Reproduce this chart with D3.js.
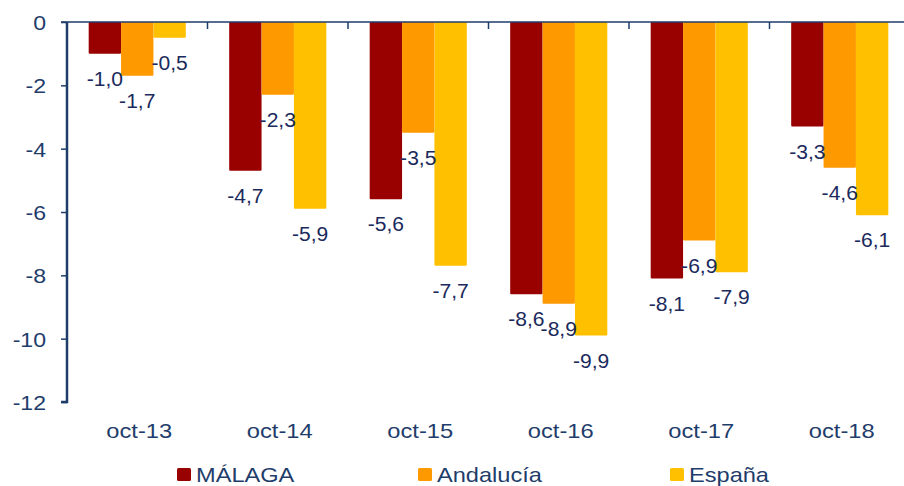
<!DOCTYPE html>
<html>
<head>
<meta charset="utf-8">
<script src="https://cdn.jsdelivr.net/npm/d3@7"></script>
<style>
  body { margin: 0; background: #fff; }
  svg { display: block; font-family: "Liberation Sans", Arial, sans-serif; }
</style>
</head>
<body>
<div id="chart"></div>
<script>
var categories = ["oct-13", "oct-14", "oct-15", "oct-16", "oct-17", "oct-18"];
var seriesNames = ["MÁLAGA", "Andalucía", "España"];
var malaga = [-1.0, -4.7, -5.6, -8.6, -8.1, -3.3];
var andalucia = [-1.7, -2.3, -3.5, -8.9, -6.9, -4.6];
var espana = [-0.5, -5.9, -7.7, -9.9, -7.9, -6.1];
var yTicks = [0, -2, -4, -6, -8, -10, -12];

var colors = ["#990000", "#ff9900", "#ffc000"];
var axisColor = "#1f3d6b",
    labelColor = "#1b2a5c",
    width = 904,
    height = 486;

var seriesValues = [malaga, andalucia, espana];

// the source picture is a bit wider than tall, so text gets a horizontal stretch
var stretch = function(sx) {
    return function(sel) {
        sel.attr("transform", function() {
            var t = d3.select(this);
            var px = +t.attr("x"), py = +t.attr("y");
            t.attr("x", 0).attr("y", 0);
            return "translate(" + px + "," + py + ") scale(" + sx + ",1)";
        });
    };
};

var fmt = function(v) {
    return d3.format(".1f")(v).replace("\u2212", "-").replace(".", ",");
};

var svg = d3.select("#chart").append("svg")
    .attr("width", width).attr("height", height);

var x = d3.scaleBand().domain(categories).range([67, 910]);
var xs = d3.scaleBand().domain([0, 1, 2]).range([0, x.bandwidth()]).paddingOuter(0.67);
var y = d3.scaleLinear().domain([-12, 0]).range([402, 22]);

// bars
var groups = svg.selectAll("g.cat").data(categories).enter().append("g")
    .attr("class", "cat")
    .attr("transform", function(d) { return "translate(" + x(d) + ",0)"; });

var cellData = function(d, i) {
    return seriesValues.map(function(s, j) { return { s: j, v: s[i] }; });
};

groups.selectAll("rect").data(cellData).enter().append("rect")
    .attr("x", function(d) { return xs(d.s); })
    .attr("y", y(0))
    .attr("width", xs.bandwidth())
    .attr("height", function(d) { return y(d.v) - y(0); })
    .attr("rx", 1)
    .attr("fill", function(d) { return colors[d.s]; });

// value labels
groups.selectAll("text.val").data(cellData).enter().append("text")
    .attr("class", "val")
    .attr("x", function(d) { return xs(d.s) + xs.bandwidth() / 2; })
    .attr("y", function(d) { return y(d.v) + 32; })
    .attr("text-anchor", "middle")
    .attr("font-size", 19.5)
    .attr("fill", labelColor)
    .text(function(d) { return fmt(d.v); })
    .call(stretch(1.08));

// zero line with ticks at category boundaries
svg.append("line")
    .attr("x1", 61).attr("x2", width)
    .attr("y1", y(0)).attr("y2", y(0))
    .attr("stroke", axisColor).attr("stroke-width", 1.5);

svg.selectAll("line.xtick").data(categories).enter().append("line")
    .attr("class", "xtick")
    .attr("x1", function(d) { return x(d) + x.step(); })
    .attr("x2", function(d) { return x(d) + x.step(); })
    .attr("y1", y(0)).attr("y2", y(0) + 7)
    .attr("stroke", axisColor).attr("stroke-width", 1.5);

// category labels
svg.selectAll("text.catlabel").data(categories).enter().append("text")
    .attr("class", "catlabel")
    .attr("x", function(d) { return x(d) + x.bandwidth() / 2 + 2; })
    .attr("y", 438)
    .attr("text-anchor", "middle")
    .attr("font-size", 21)
    .attr("fill", axisColor)
    .text(function(d) { return d; })
    .call(stretch(1.13));

// y axis
var yAxis = svg.append("g")
    .attr("transform", "translate(67,0)")
    .call(d3.axisLeft(y).tickValues(yTicks).tickSize(6).tickPadding(15)
        .tickFormat(function(d) { return String(d); }));

yAxis.select(".domain").attr("stroke", axisColor).attr("stroke-width", 2.5)
    .attr("d", "M-6," + y(-12) + "H0V" + y(0));
yAxis.selectAll(".tick line").attr("stroke", axisColor).attr("stroke-width", 1.5);
yAxis.selectAll(".tick text")
    .attr("fill", axisColor)
    .attr("font-size", 21)
    .attr("font-family", "Liberation Sans, Arial, sans-serif")
    .attr("dy", null)
    .attr("y", 7.5)
    .call(stretch(1.1));

// legend
var legendX = [177, 418, 670];
var legend = svg.selectAll("g.legend").data(seriesNames).enter().append("g")
    .attr("class", "legend")
    .attr("transform", function(d, i) { return "translate(" + legendX[i] + ",468)"; });

legend.append("rect")
    .attr("width", 14).attr("height", 13).attr("rx", 1.5)
    .attr("fill", function(d, i) { return colors[i]; });

legend.append("text")
    .attr("x", 19).attr("y", 13.5)
    .attr("font-size", 20)
    .attr("fill", axisColor)
    .text(function(d) { return d; })
    .call(stretch(1.18));
</script>
</body>
</html>
